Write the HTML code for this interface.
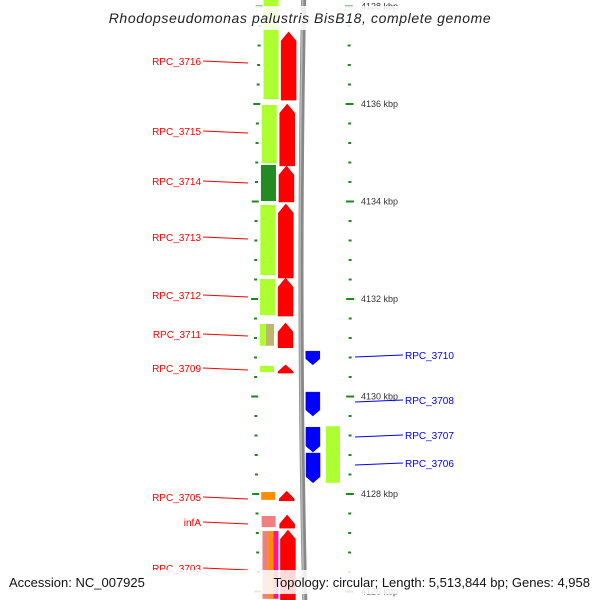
<!DOCTYPE html>
<html><head><meta charset="utf-8"><style>
body{margin:0;background:#fff;}
svg{display:block;font-family:"Liberation Sans","DejaVu Sans",sans-serif;}
</style></head><body>
<svg id="map" width="600" height="600" viewBox="0 0 600 600"></svg>
<script>
// data (kbp)
const majorTicks=[4138,4136,4134,4132,4130,4128,4126];
const fwdStart=[4136.08,4134.73,4133.99,4132.43,4131.65,4131.00,4130.48,4127.86,4127.30,4125.83];
const fwdEnd  =[4137.48,4136.00,4134.73,4133.95,4132.43,4131.51,4130.65,4128.06,4127.57,4127.26];
const fwdNames=["RPC_3716","RPC_3715","RPC_3714","RPC_3713","RPC_3712","RPC_3711","RPC_3709","RPC_3705","infA","RPC_3703"];
const revStart=[4130.93,4130.09,4129.37,4128.84];
const revEnd  =[4130.65,4129.60,4128.86,4128.23];
const revNames=["RPC_3710","RPC_3708","RPC_3707","RPC_3706"];
// COG-colour segments on forward strand
const cogStart=[4136.08,4134.77,4133.99,4132.47,4131.65,4131.02,4131.02,4130.48,4127.86,4127.30,4125.83,4125.83,4125.83];
const cogEnd  =[4138.2,4136.0,4134.77,4133.95,4132.43,4131.51,4131.51,4130.65,4128.06,4127.57,4127.26,4127.26,4127.26];
const cogColor=["#adff2f","#adff2f","#228b22","#adff2f","#adff2f","#adff2f","#bdb76b","#adff2f","#ff8c00","#f08080","#f08080","#ff8c00","#ff1493"];
const cogX0=[0,0,0,0,0,0,6,0,0,0,0,6,11];
const cogW=[15,15,15,15,15,6,8,14,14,14,6,5,5];
const revCogStart=[4128.23]; const revCogEnd=[4129.39];

const svg=document.getElementById('map');
const NS='http://www.w3.org/2000/svg';
const y=k=>104+(4136-k)*48.75;
const dx=yy=>-4*(1-Math.pow((yy-330)/300,2));
function mk(tag,attrs,name,parent){const e=document.createElementNS(NS,tag);for(const a in attrs)e.setAttribute(a,attrs[a]);


(parent||svg).appendChild(e);return e;}

// backbone
let d='';for(let yy=0;yy<=600;yy+=10){d+=(yy?'L':'M')+(303+dx(yy)*0.8+yy*0.004)+' '+yy;}
mk('path',{d:d,stroke:'#888',"stroke-width":5,fill:'none'},'backbone');
mk('path',{d:d,stroke:'#bbb',"stroke-width":1.5,fill:'none',transform:'translate(-1,0)'},'backbone-highlight');

// ticks
for(let k=4138.4;k>=4125.6;k-=0.4){const kk=Math.round(k*10)/10;const yy=y(kk);const maj=Math.abs(kk-Math.round(kk))<0.01&&Math.round(kk)%2===0;
 const xl=262+dx(yy);const xr=349-dx(yy)*0.3;
 mk('line',{x1:xl-(maj?7:4),x2:xl-(maj?0:1),y1:yy,y2:yy,stroke:'#1a8a1a',"stroke-width":2},'tick-left');
 mk('line',{x1:xr-(maj?4:1.5),x2:xr+(maj?4:1.5),y1:yy,y2:yy,stroke:'#1a8a1a',"stroke-width":2},'tick-right');}
majorTicks.forEach(k=>{const t=mk('text',{x:361,y:y(k)+3,"font-size":9,fill:'#333'},'tick-label');t.textContent=k+' kbp';});

// forward strand genes (red arrows)
fwdStart.forEach((s,i)=>{const y1=y(fwdEnd[i]),y2=y(s);const x=282+dx((y1+y2)/2);const h=Math.min(9,(y2-y1)*0.8);
 mk('polygon',{points:`${x},${y2} ${x},${y1+h} ${x+7.5},${y1} ${x+15},${y1+h} ${x+15},${y2}`,fill:'#ff0000',stroke:'#d00','stroke-width':0.5},'gene-'+fwdNames[i]);});
// COG colours forward
cogStart.forEach((s,i)=>{const y1=y(cogEnd[i]),y2=y(s);const x=264+dx((y1+y2)/2)+cogX0[i];
 mk('rect',{x:x,y:y1+1,width:cogW[i],height:y2-y1-2,fill:cogColor[i]},'cog-segment');});
// reverse strand genes (blue arrows down)
revStart.forEach((s,i)=>{const a=y(revEnd[i]),b=y(s);const y1=Math.min(a,b),y2=Math.max(a,b);const x=307+dx((y1+y2)/2)*0.3;const h=6;
 mk('polygon',{points:`${x},${y1} ${x+14},${y1} ${x+14},${y2-h} ${x+7},${y2} ${x},${y2-h}`,fill:'#0000ff',stroke:'#00c','stroke-width':0.5},'gene-'+revNames[i]);});
revCogStart.forEach((s,i)=>{const a=y(revCogEnd[i]),b=y(s);mk('rect',{x:326,y:Math.min(a,b),width:14,height:Math.abs(b-a),fill:'#adff2f'},'cog-segment-reverse');});

// labels
const lY=[61,131,181,237,295,334,368,497,522,568];
fwdNames.forEach((n,i)=>{const t=mk('text',{x:201,y:lY[i]+4,"font-size":10,fill:'#ff0000',"text-anchor":'end'},'label-'+n);t.textContent=n;
 mk('line',{x1:203,x2:248,y1:lY[i],y2:lY[i]+2,stroke:'#ff0000'},'label-line');});
const rY=[355,400,435,463];
revNames.forEach((n,i)=>{const t=mk('text',{x:405,y:rY[i]+4,"font-size":10,fill:'#0000ff'},'label-'+n);t.textContent=n;
 mk('line',{x1:355,x2:403,y1:rY[i]+2,y2:rY[i],stroke:'#0000ff'},'label-line');});

// title & footer
mk('rect',{x:100,y:6,width:400,height:24,fill:'#fff','fill-opacity':0.85},'title-bg');
let t=mk('text',{x:300,y:23,"font-size":14,"font-style":'italic',"letter-spacing":'0.6',"text-anchor":'middle',fill:'#222'},'title');t.textContent='Rhodopseudomonas palustris BisB18, complete genome';
mk('rect',{x:0,y:570,width:600,height:24,fill:'#fff','fill-opacity':0.85},'footer-bg');
t=mk('text',{x:9,y:587,"font-size":13,fill:'#111'},'accession');t.textContent='Accession: NC_007925';
t=mk('text',{x:590,y:587,"font-size":13,fill:'#111',"text-anchor":'end'},'topology');t.textContent='Topology: circular; Length: 5,513,844 bp; Genes: 4,958';
</script>
</body></html>
